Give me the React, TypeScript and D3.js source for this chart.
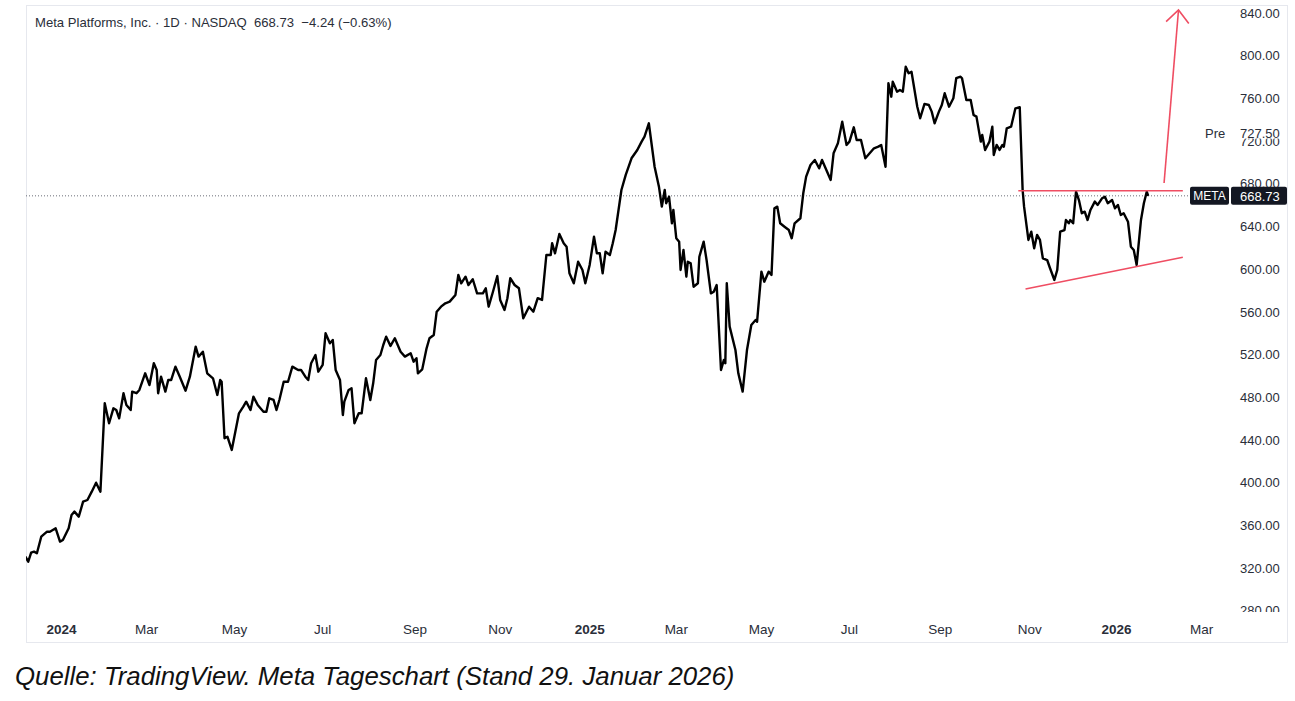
import React from "react";
import * as d3 from "d3";

const W = 1295;
const H = 701;

const BASE_DATE = new Date(2024, 0, 1);

// days since 2024-01-01 (calendar days) for each sampled close
const dayOffsets = [
  -24, -22, -20, -18, -16, -13, -9, -7, -3, 0, 2, 6, 8, 10, 13, 16, 19, 22, 25, 28,
  31, 34, 37, 39, 41, 44, 46, 49, 50, 53, 55, 59, 62, 65, 67, 68, 70, 73, 75, 77,
  80, 83, 87, 90, 94, 96, 99, 102, 106, 109, 111, 112, 114, 116, 119, 124, 127, 129, 132, 134,
  137, 141, 143, 145, 148, 150, 152, 155, 158, 161, 165, 167, 170, 172, 174, 177, 179, 182, 184, 187,
  189, 191, 194, 196, 197, 200, 202, 204, 207, 209, 212, 215, 217, 219, 222, 224, 226, 229, 232, 236,
  239, 243, 245, 247, 248, 251, 254, 256, 259, 261, 264, 267, 270, 274, 276, 278, 281, 283, 286, 289,
  293, 295, 297, 300, 303, 305, 308, 310, 312, 315, 318, 321, 325, 328, 331, 334, 337, 340, 341, 343,
  346, 349, 351, 353, 356, 359, 362, 364, 367, 370, 372, 374, 376, 378, 381, 383, 385,
  389, 392, 396, 400, 403, 405, 408, 412, 415, 417, 419, 420, 422, 424, 425, 427, 429, 430, 432, 434,
  435, 437, 439, 442, 443, 446, 448, 451, 453, 455, 458, 460, 461, 462, 464, 468, 470, 473, 476, 479,
  482, 483, 486, 488, 491, 493, 495, 497, 499, 502, 505, 507, 509, 513, 515, 517, 520, 523, 526,
  528, 531, 534, 536, 539, 542, 545, 547, 550, 552, 555, 558, 561, 564, 567, 569, 572, 574, 576, 577,
  580, 582, 584, 586, 588, 590, 594, 596, 599, 602, 604, 606, 609, 611, 613, 616, 619, 621, 624, 625,
  628, 631, 633, 635, 638, 639, 641, 644, 646, 647, 649, 651, 653, 654, 656, 659, 662, 665,
  667, 668, 671, 673, 675, 677, 679, 681, 684, 686, 689, 691, 693, 696, 697, 699, 700, 702, 704, 706,
  708, 710, 712, 714, 717, 719, 722, 724, 726, 729, 731, 733, 735, 737, 740, 742, 744, 746, 749, 751,
  753, 754,
];

const closes = [
  330.7, 326.0, 334.4, 335.4, 333.9, 349.4, 354.1, 354.1, 357.3, 344.8, 346.3, 357.3, 369.8, 372.9, 368.2, 382.2, 383.8, 391.6, 400.0, 391.6,
  474.4, 455.7, 469.7, 468.1, 460.3, 483.8, 472.8, 468.1, 485.3, 483.8, 486.9, 502.5, 491.5, 511.9, 505.6, 483.8, 499.3, 485.3, 496.2, 496.2,
  508.7, 499.3, 486.2, 499.3, 527.4, 518.1, 522.7, 502.5, 497.8, 482.2, 496.2, 494.6, 441.6, 443.1, 430.7, 465.0, 471.2, 475.9, 468.1, 480.6,
  472.8, 466.5, 466.5, 479.1, 477.5, 468.1, 477.5, 494.6, 494.6, 508.7, 505.6, 505.6, 499.3, 496.2, 511.9, 519.6, 504.0, 510.3, 540.0, 530.6,
  533.7, 505.6, 496.2, 463.4, 475.9, 486.9, 488.5, 455.7, 465.0, 465.0, 497.8, 477.5, 493.1, 515.0, 519.6, 529.0, 536.8, 528.1, 535.3, 522.7,
  518.1, 521.2, 513.4, 516.6, 502.5, 506.2, 525.9, 535.3, 538.4, 560.2, 564.9, 568.1, 569.6, 575.9, 594.6, 586.8, 593.0, 585.2, 590.6, 577.4,
  577.4, 582.1, 564.9, 578.9, 593.6, 571.2, 561.8, 572.8, 591.5, 585.2, 582.1, 554.0, 564.9, 560.2, 572.8, 571.2, 613.3, 613.3, 624.3, 614.9,
  633.0, 624.3, 621.1, 596.2, 586.8, 607.0, 599.3, 586.8, 604.0, 630.5, 614.9, 614.9, 596.2, 616.4, 613.3, 624.3, 636.7,
  674.2, 688.3, 703.9, 711.7, 719.5, 724.1, 736.7, 696.0, 677.3, 658.6, 674.2, 661.8, 667.9, 643.0, 655.5, 629.0, 625.8, 599.3, 618.0, 593.0,
  607.0, 605.5, 583.6, 586.8, 611.7, 625.8, 608.6, 577.4, 578.9, 585.2, 505.6, 515.0, 511.9, 586.8, 546.2, 524.3, 502.5, 485.3, 524.3, 547.7,
  552.4, 550.8, 597.7, 588.3, 597.7, 594.6, 657.1, 658.6, 643.0, 639.8, 636.7, 629.0, 643.0, 647.7, 671.1, 686.7, 697.6, 702.3, 694.5,
  702.3, 692.9, 683.6, 708.6, 718.0, 738.2, 716.4, 719.5, 732.9, 721.1, 721.1, 703.9, 708.6, 713.3, 714.8, 716.4, 696.0, 774.2, 761.6, 775.7,
  766.3, 767.9, 766.3, 789.7, 783.5, 785.0, 752.2, 741.4, 754.8, 753.8, 747.6, 736.7, 747.6, 753.8, 764.8, 752.2, 760.1, 778.9, 780.3, 778.9,
  758.5, 758.5, 744.5, 742.9, 719.5, 725.7, 711.7, 719.5, 733.5, 707.0, 716.4, 711.7, 716.4, 714.8, 732.0, 733.5, 750.7, 751.7,
  674.2, 658.6, 627.4, 635.1, 619.6, 632.1, 627.4, 610.2, 608.6, 600.9, 589.9, 599.3, 635.1, 636.7, 646.1, 643.0, 646.1, 643.0, 672.6, 664.8,
  652.4, 653.9, 646.1, 655.5, 663.3, 660.2, 666.4, 667.9, 661.8, 664.8, 657.1, 660.2, 650.8, 652.4, 644.5, 621.1, 618.0, 604.0, 646.1, 661.8,
  672.6, 668.73,
];

const yTicks = [280, 320, 360, 400, 440, 480, 520, 560, 600, 640, 680, 720, 760, 800, 840];

const xTickDates = [
  "2024-01-02", "2024-03-01", "2024-05-01", "2024-07-01", "2024-09-03", "2024-11-01",
  "2025-01-02", "2025-03-03", "2025-05-01", "2025-07-01", "2025-09-02", "2025-11-03",
  "2026-01-02", "2026-03-02",
];
const xTickLabels = ["2024", "Mar", "May", "Jul", "Sep", "Nov", "2025", "Mar", "May", "Jul", "Sep", "Nov", "2026", "Mar"];
const xTickIsYear = [true, false, false, false, false, false, true, false, false, false, false, false, true, false];

const titleText = "Meta Platforms, Inc. · 1D · NASDAQ  668.73  −4.24 (−0.63%)";
const captionText = "Quelle: TradingView. Meta Tageschart (Stand 29. Januar 2026)";
const symbol = "META";
const lastPrice = 668.73;
const prePrice = 727.5;

const resistanceDays = [664, 778];
const resistanceLevel = 673.5;
const supportDays = [669, 778];
const supportPrices = [581.5, 611.2];
const arrowDays = [765, 775];
const arrowPrices = [680.8, 842.8];

const FONT = "'Liberation Sans', Arial, sans-serif";
const TEXT = "#2a2e39";
const RED = "#ef4d62";

export default function App() {
  const parse = d3.timeParse("%Y-%m-%d");
  const x = d3
    .scaleTime()
    .domain([BASE_DATE, d3.timeDay.offset(BASE_DATE, 731)])
    .range([60, 1115]);
  const y = d3.scaleLinear().domain([280, 840]).range([610.8, 13]);

  const dates = dayOffsets.map((d) => d3.timeDay.offset(BASE_DATE, d));
  const line = d3
    .line<number>()
    .x((_, i) => x(dates[i]))
    .y((v) => y(v));
  const pathD = line(closes) || "";

  const dx = (d: number) => x(d3.timeDay.offset(BASE_DATE, d));

  // arrow
  const ax0 = dx(arrowDays[0]);
  const ay0 = y(arrowPrices[0]);
  const ax1 = dx(arrowDays[1]);
  const ay1 = y(arrowPrices[1]);
  const ang = Math.atan2(ay0 - ay1, ax0 - ax1);
  const headLen = 17;
  const headAng = (42 * Math.PI) / 180;
  const hl = [ax1 + headLen * Math.cos(ang + headAng), ay1 + headLen * Math.sin(ang + headAng)];
  const hr = [ax1 + headLen * Math.cos(ang - headAng), ay1 + headLen * Math.sin(ang - headAng)];

  const yLast = y(lastPrice);
  const yPre = y(prePrice);

  return (
    <svg
      width={W}
      height={H}
      style={{ position: "absolute", left: 0, top: 0, background: "#fff" }}
      fontFamily={FONT}
    >
      <defs>
        <clipPath id="plotClip">
          <rect x={26} y={5} width={1206} height={607} />
        </clipPath>
      </defs>
      <rect x={0} y={0} width={W} height={H} fill="#fff" />
      <rect x={26.5} y={5.5} width={1261} height={637} fill="#fff" stroke="#e6e8ee" strokeWidth={1} />

      {/* title */}
      <text x={35} y={27} fontSize={13.1} fill={TEXT} style={{ whiteSpace: "pre" }}>
        {titleText}
      </text>

      {/* last price dotted line */}
      <line x1={26} x2={1190} y1={yLast} y2={yLast} stroke="#6a6d78" strokeWidth={1} strokeDasharray="1 2" />

      {/* price line */}
      <g clipPath="url(#plotClip)">
        <path d={pathD} fill="none" stroke="#000" strokeWidth={2.4} strokeLinejoin="round" />
      </g>

      {/* annotations */}
      <line x1={dx(resistanceDays[0])} x2={dx(resistanceDays[1])} y1={y(resistanceLevel)} y2={y(resistanceLevel)} stroke={RED} strokeWidth={1.6} />
      <line x1={dx(supportDays[0])} x2={dx(supportDays[1])} y1={y(supportPrices[0])} y2={y(supportPrices[1])} stroke={RED} strokeWidth={1.6} />
      <line x1={ax0} y1={ay0} x2={ax1} y2={ay1} stroke={RED} strokeWidth={1.6} />
      <polyline points={`${hl[0]},${hl[1]} ${ax1},${ay1} ${hr[0]},${hr[1]}`} fill="none" stroke={RED} strokeWidth={1.6} />

      {/* y axis labels */}
      {yTicks.map((t) => (
        <text key={t} x={1240} y={y(t)} dy="0.36em" fontSize={13} fill={TEXT}>
          {d3.format(".2f")(t)}
        </text>
      ))}

      {/* pre-market label */}
      <rect x={1236} y={yPre - 8} width={50} height={13.5} fill="#fff" />
      <text x={1205} y={yPre} dy="0.36em" fontSize={13} fill={TEXT}>Pre</text>
      <text x={1240} y={yPre} dy="0.36em" fontSize={13} fill={TEXT}>{d3.format(".2f")(prePrice)}</text>

      {/* symbol + last price boxes */}
      <rect x={1190} y={yLast - 9} width={39} height={18} rx={2} fill="#131722" />
      <text x={1209.5} y={yLast} dy="0.36em" fontSize={12} fill="#fff" textAnchor="middle">{symbol}</text>
      <rect x={1231} y={yLast - 9} width={56} height={18} rx={2} fill="#131722" />
      <text x={1240} y={yLast} dy="0.36em" fontSize={13} fill="#fff">{d3.format(".2f")(lastPrice)}</text>

      {/* time axis area */}
      <rect x={27} y={612} width={1260} height={30} fill="#fff" />
      {xTickDates.map((d, i) => (
        <text
          key={d}
          x={x(parse(d) as Date)}
          y={629}
          dy="0.36em"
          fontSize={13.5}
          fill={TEXT}
          textAnchor="middle"
          fontWeight={xTickIsYear[i] ? "bold" : "normal"}
        >
          {xTickLabels[i]}
        </text>
      ))}

      {/* caption */}
      <text x={15} y={685} fontSize={25.8} fontStyle="italic" fill="#111">
        {captionText}
      </text>
    </svg>
  );
}
